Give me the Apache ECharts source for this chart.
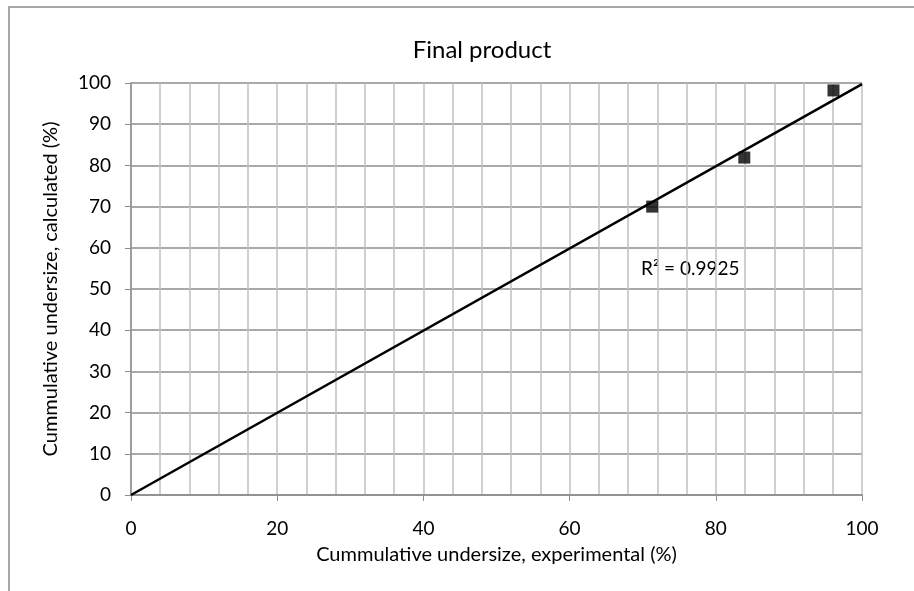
<!DOCTYPE html>
<html>
<head>
<meta charset="utf-8">
<script src="https://cdn.jsdelivr.net/npm/echarts@6/dist/echarts.min.js"></script>
<style>html,body{margin:0;padding:0;background:#fff}#c{width:914px;height:591px}</style>
</head>
<body>
<div id="c"></div>
<script>
const titleText = "Final product";
const xTitle = "Cummulative undersize, experimental (%)";
const yTitle = "Cummulative undersize, calculated (%)";
const experimental = [71.3, 83.9, 96.1];
const calculated = [70.0, 81.9, 98.2];
const r2Label = "R² = 0.9925";
const trendRange = [0, 100];

// least-squares slope through origin
let sxy = 0, sxx = 0;
experimental.forEach((x, i) => { sxy += x * calculated[i]; sxx += x * x; });
const slope = sxy / sxx;
const trend = trendRange.map(x => [x, slope * x]);
const points = experimental.map((x, i) => [x, calculated[i]]);

const font = "Lato, 'Noto Sans', sans-serif";
const chart = echarts.init(document.getElementById('c'), null, {renderer: 'canvas'});
chart.setOption({
  animation: false,
  backgroundColor: '#fff',
  title: {
    text: titleText, left: 477, top: 33, textAlign: 'center',
    textStyle: {fontFamily: font, fontSize: 24, fontWeight: 'normal', color: '#000'}
  },
  graphic: [
    {type: 'rect', shape: {x: 9, y: 7, width: 1000, height: 1000},
     style: {fill: 'none', stroke: '#8c8c8c', lineWidth: 1.5}, z: -1},
    {type: 'text', left: 641, top: 259,
     style: {text: r2Label, fontFamily: font, fontSize: 19, fill: '#000'}}
  ],
  grid: {left: 131, right: 52, top: 83, bottom: 96},
  xAxis: {
    type: 'value', min: 0, max: 100, interval: 20,
    name: xTitle, nameLocation: 'middle', nameGap: 50,
    nameTextStyle: {fontFamily: font, fontSize: 20, color: '#000'},
    axisLine: {show: true, onZero: false, lineStyle: {color: '#8c8c8c', width: 1.5}},
    axisTick: {show: true, length: 6, lineStyle: {color: '#8c8c8c'}},
    axisLabel: {fontFamily: font, fontSize: 19, color: '#000', margin: 24},
    splitLine: {show: true, lineStyle: {color: '#c0c0c0', width: 1.5}},
    minorTick: {show: false, splitNumber: 5},
    minorSplitLine: {show: true, lineStyle: {color: '#c0c0c0', width: 1.5}}
  },
  yAxis: {
    type: 'value', min: 0, max: 100, interval: 10,
    name: yTitle, nameLocation: 'middle', nameGap: 70, nameRotate: 90,
    nameTextStyle: {fontFamily: font, fontSize: 20, color: '#000'},
    axisLine: {show: true, onZero: false, lineStyle: {color: '#8c8c8c', width: 1.5}},
    axisTick: {show: true, length: 6, lineStyle: {color: '#8c8c8c'}},
    axisLabel: {fontFamily: font, fontSize: 19, color: '#000', margin: 20},
    splitLine: {show: true, lineStyle: {color: '#8c8c8c', width: 1.5}}
  },
  series: [
    {type: 'line', data: trend, showSymbol: false, symbol: 'none',
     lineStyle: {color: '#000', width: 2.5}, z: 3},
    {type: 'scatter', data: points, symbol: 'rect', symbolSize: 12,
     itemStyle: {color: '#000'}, z: 4}
  ]
});
</script>
</body>
</html>
